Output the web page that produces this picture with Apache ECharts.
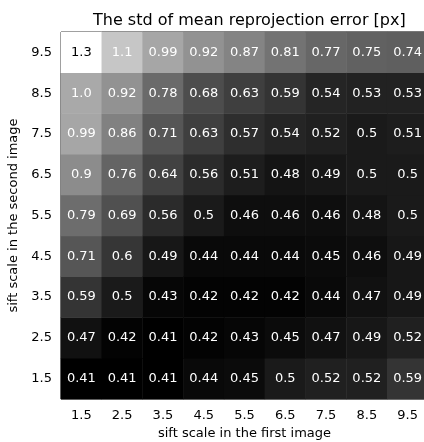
<!DOCTYPE html>
<html>
<head>
<meta charset="utf-8">
<script src="https://cdn.jsdelivr.net/npm/echarts@6/dist/echarts.min.js"></script>
<style>
  html, body { margin: 0; padding: 0; background: #fff; }
  #chart { width: 424px; height: 442px; }
</style>
</head>
<body>
<div id="chart"></div>
<script>
// SIFT scale values for each image (axis categories)
const firstScales = ['1.5', '2.5', '3.5', '4.5', '5.5', '6.5', '7.5', '8.5', '9.5'];
const secondScales = ['1.5', '2.5', '3.5', '4.5', '5.5', '6.5', '7.5', '8.5', '9.5'];

// Std of mean reprojection error [px], one row per second-image scale (1.5 -> 9.5)
const row15 = [0.41, 0.41, 0.41, 0.44, 0.45, 0.5, 0.52, 0.52, 0.59];
const row25 = [0.47, 0.42, 0.41, 0.42, 0.43, 0.45, 0.47, 0.49, 0.52];
const row35 = [0.59, 0.5, 0.43, 0.42, 0.42, 0.42, 0.44, 0.47, 0.49];
const row45 = [0.71, 0.6, 0.49, 0.44, 0.44, 0.44, 0.45, 0.46, 0.49];
const row55 = [0.79, 0.69, 0.56, 0.5, 0.46, 0.46, 0.46, 0.48, 0.5];
const row65 = [0.9, 0.76, 0.64, 0.56, 0.51, 0.48, 0.49, 0.5, 0.5];
const row75 = [0.99, 0.86, 0.71, 0.63, 0.57, 0.54, 0.52, 0.5, 0.51];
const row85 = [1.0, 0.92, 0.78, 0.68, 0.63, 0.59, 0.54, 0.53, 0.53];
const row95 = [1.3, 1.1, 0.99, 0.92, 0.87, 0.81, 0.77, 0.75, 0.74];

const rows = [row15, row25, row35, row45, row55, row65, row75, row85, row95];
const cells = [];
rows.forEach((row, yi) => row.forEach((v, xi) => cells.push([xi, yi, v])));

const vMin = 0.41, vMax = 1.3;
const font = 'DejaVu Sans';

const chart = echarts.init(document.getElementById('chart'), null, { renderer: 'canvas' });
chart.setOption({
  animation: false,
  backgroundColor: '#fff',
  textStyle: { fontFamily: font },
  title: {
    text: 'The std of mean reprojection error [px]',
    left: 88, top: 8,
    textStyle: { fontFamily: font, fontSize: 16, fontWeight: 'normal', color: '#000' }
  },
  grid: {
    left: 61, top: 32, width: 367, height: 367,
    outerBoundsMode: 'none', containLabel: false,
    show: true, borderColor: '#000', borderWidth: 1, backgroundColor: 'transparent'
  },
  xAxis: {
    type: 'category', data: firstScales,
    name: 'sift scale in the first image', nameLocation: 'middle', nameGap: 26,
    nameTextStyle: { fontFamily: font, fontSize: 13, color: '#000' },
    axisLine: { show: false },
    axisTick: { alignWithLabel: true, length: 4, lineStyle: { color: '#000' } },
    axisLabel: { fontFamily: font, fontSize: 13, color: '#000', margin: 10 },
    splitLine: { show: false }
  },
  yAxis: {
    type: 'category', data: secondScales,
    name: 'sift scale in the second image', nameLocation: 'middle', nameGap: 35,
    nameTextStyle: { fontFamily: font, fontSize: 13, color: '#000' },
    axisLine: { show: false },
    axisTick: { alignWithLabel: true, length: 4, lineStyle: { color: '#000' } },
    axisLabel: { fontFamily: font, fontSize: 13, color: '#000', margin: 9 },
    splitLine: { show: false }
  },
  visualMap: {
    show: false, min: vMin, max: vMax, dimension: 2,
    inRange: { color: ['#000000', '#ffffff'] }
  },
  series: [{
    type: 'heatmap',
    data: cells.map(c => c[2] > 1.2
      ? { value: c, label: { color: '#000' } }
      : { value: c }),
    label: {
      show: true,
      fontFamily: font, fontSize: 13,
      formatter: p => {
        const v = p.value[2];
        return Number.isInteger(v) ? v.toFixed(1) : String(v);
      },
      color: '#fff'
    },
    emphasis: { disabled: true }
  }]
});
</script>
</body>
</html>
